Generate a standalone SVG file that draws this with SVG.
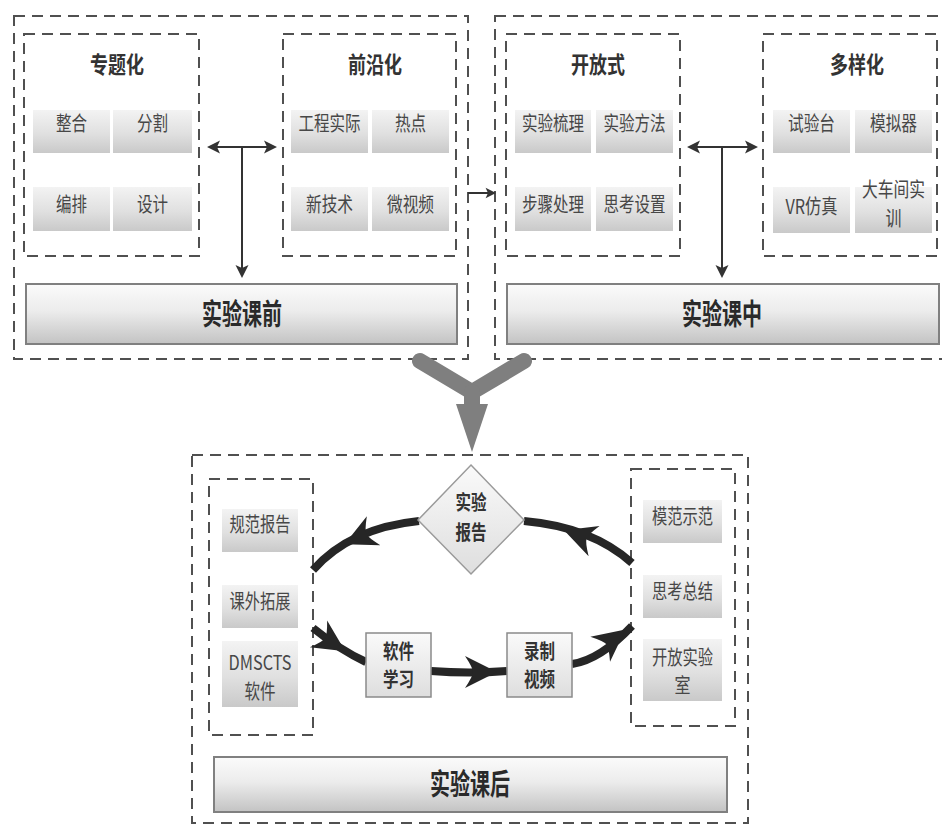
<svg xmlns="http://www.w3.org/2000/svg" width="942" height="827" viewBox="0 0 942 827">
  <defs>
    <linearGradient id="cellGrad" x1="0" y1="0" x2="0" y2="1">
      <stop offset="0" stop-color="#f3f3f3"/>
      <stop offset="0.55" stop-color="#e0e0e0"/>
      <stop offset="1" stop-color="#c9c9c9"/>
    </linearGradient>
    <linearGradient id="barGrad" x1="0" y1="0" x2="0" y2="1">
      <stop offset="0" stop-color="#fbfbfb"/>
      <stop offset="0.45" stop-color="#ececec"/>
      <stop offset="1" stop-color="#c3c3c3"/>
    </linearGradient>
    <linearGradient id="boxGrad" x1="0" y1="0" x2="0" y2="1">
      <stop offset="0" stop-color="#fafafa"/>
      <stop offset="1" stop-color="#dedede"/>
    </linearGradient>
    <!-- swept arrowhead for the thick cycle arcs, pointing along +x -->
    <path id="barb" d="M17,0 L-15,-16 Q-7,-4 -7,0 Q-7,4 -15,16 Z"/>
    <!-- small arrowhead for thin connectors, pointing along +x -->
    <path id="tip" d="M0,0 L-13,-6.5 L-10,0 L-13,6.5 Z"/>
  </defs>
  <style>
    .dash { fill: none; stroke: #505050; stroke-width: 2; stroke-dasharray: 11 7; }
    .cell { fill: url(#cellGrad); }
    .txt { font-family: "Noto Sans CJK SC", "Noto Sans", sans-serif; text-anchor: middle; }
    .ct { font-size: 20px; fill: #474747; }
    .tt { font-size: 23px; font-weight: bold; fill: #333; }
    .bar { fill: url(#barGrad); stroke: #808080; stroke-width: 2; }
    .bt { font-size: 29px; font-weight: bold; fill: #2a2a2a; }
    .nt { font-size: 20px; font-weight: bold; fill: #333; }
    .thin { fill: none; stroke: #333; stroke-width: 2; }
    .thick { fill: none; stroke: #262626; stroke-width: 8; }
    .head { fill: #333; }
    .bhead { fill: #262626; }
    .merge { fill: none; stroke: #7f7f7f; stroke-width: 16; stroke-linecap: round; stroke-linejoin: round; }
  </style>

  <rect width="942" height="827" fill="#ffffff"/>

  <!-- stage 1: before class -->
  <g id="stage-before">
    <rect class="dash" x="14" y="16" width="454" height="343"/>
    <rect class="bar" x="26" y="284" width="431" height="60"/>
    <text class="txt bt" x="242" y="325" textLength="80" lengthAdjust="spacingAndGlyphs">实验课前</text>
  </g>
  <g id="topical">
    <rect class="dash" x="24" y="34" width="175" height="222"/>
    <text class="txt tt" x="117" y="73" textLength="54" lengthAdjust="spacingAndGlyphs">专题化</text>
    <rect class="cell" x="33" y="110" width="77" height="43"/>
    <rect class="cell" x="113" y="110" width="79" height="43"/>
    <rect class="cell" x="33" y="187" width="77" height="44"/>
    <rect class="cell" x="113" y="187" width="79" height="44"/>
    <text class="txt ct" x="71.5" y="131" textLength="31" lengthAdjust="spacingAndGlyphs">整合</text>
    <text class="txt ct" x="152.5" y="131" textLength="31" lengthAdjust="spacingAndGlyphs">分割</text>
    <text class="txt ct" x="71.5" y="212" textLength="31" lengthAdjust="spacingAndGlyphs">编排</text>
    <text class="txt ct" x="152.5" y="212" textLength="31" lengthAdjust="spacingAndGlyphs">设计</text>
  </g>
  <g id="frontier">
    <rect class="dash" x="283" y="34" width="173" height="222"/>
    <text class="txt tt" x="375" y="73" textLength="54" lengthAdjust="spacingAndGlyphs">前沿化</text>
    <rect class="cell" x="291" y="110" width="77" height="43"/>
    <rect class="cell" x="372" y="110" width="77" height="43"/>
    <rect class="cell" x="291" y="187" width="77" height="44"/>
    <rect class="cell" x="372" y="187" width="77" height="44"/>
    <text class="txt ct" x="329.5" y="131" textLength="62" lengthAdjust="spacingAndGlyphs">工程实际</text>
    <text class="txt ct" x="410.5" y="131" textLength="31" lengthAdjust="spacingAndGlyphs">热点</text>
    <text class="txt ct" x="329.5" y="212" textLength="47" lengthAdjust="spacingAndGlyphs">新技术</text>
    <text class="txt ct" x="410.5" y="212" textLength="47" lengthAdjust="spacingAndGlyphs">微视频</text>
  </g>

  <!-- stage 2: in class -->
  <g id="stage-during">
    <rect class="dash" x="495" y="16" width="452" height="343"/>
    <rect class="bar" x="507" y="284" width="432" height="60"/>
    <text class="txt bt" x="722" y="325" textLength="80" lengthAdjust="spacingAndGlyphs">实验课中</text>
  </g>
  <g id="open">
    <rect class="dash" x="506" y="34" width="174" height="222"/>
    <text class="txt tt" x="598" y="73" textLength="54" lengthAdjust="spacingAndGlyphs">开放式</text>
    <rect class="cell" x="515" y="110" width="76" height="43"/>
    <rect class="cell" x="596" y="110" width="77" height="43"/>
    <rect class="cell" x="515" y="187" width="76" height="44"/>
    <rect class="cell" x="596" y="187" width="77" height="44"/>
    <text class="txt ct" x="553" y="131" textLength="62" lengthAdjust="spacingAndGlyphs">实验梳理</text>
    <text class="txt ct" x="634.5" y="131" textLength="62" lengthAdjust="spacingAndGlyphs">实验方法</text>
    <text class="txt ct" x="553" y="212" textLength="62" lengthAdjust="spacingAndGlyphs">步骤处理</text>
    <text class="txt ct" x="634.5" y="212" textLength="62" lengthAdjust="spacingAndGlyphs">思考设置</text>
  </g>
  <g id="diverse">
    <rect class="dash" x="763" y="34" width="174" height="222"/>
    <text class="txt tt" x="857" y="73" textLength="54" lengthAdjust="spacingAndGlyphs">多样化</text>
    <rect class="cell" x="773" y="110" width="77" height="43"/>
    <rect class="cell" x="855" y="110" width="77" height="43"/>
    <rect class="cell" x="773" y="187" width="77" height="46"/>
    <rect class="cell" x="855" y="187" width="77" height="46"/>
    <text class="txt ct" x="811.5" y="131" textLength="47" lengthAdjust="spacingAndGlyphs">试验台</text>
    <text class="txt ct" x="893.5" y="131" textLength="47" lengthAdjust="spacingAndGlyphs">模拟器</text>
    <text class="txt ct" x="811.5" y="214" textLength="52" lengthAdjust="spacingAndGlyphs">VR仿真</text>
    <text class="txt ct" x="893.5" y="197" textLength="63" lengthAdjust="spacingAndGlyphs">大车间实</text>
    <text class="txt ct" x="893.5" y="226" textLength="16" lengthAdjust="spacingAndGlyphs">训</text>
  </g>

  <!-- stage 3: after class -->
  <g id="stage-after">
    <rect class="dash" x="192" y="455" width="556" height="368"/>
    <rect class="bar" x="214" y="757" width="513" height="55"/>
    <text class="txt bt" x="470" y="795" textLength="80" lengthAdjust="spacingAndGlyphs">实验课后</text>
  </g>
  <g id="after-left">
    <rect class="dash" x="209" y="479" width="104" height="256"/>
    <rect class="cell" x="222" y="509" width="76" height="43"/>
    <rect class="cell" x="222" y="585" width="76" height="43"/>
    <rect class="cell" x="222" y="641" width="76" height="66"/>
    <text class="txt ct" x="260" y="532" textLength="61" lengthAdjust="spacingAndGlyphs">规范报告</text>
    <text class="txt ct" x="260" y="609" textLength="61" lengthAdjust="spacingAndGlyphs">课外拓展</text>
    <text class="txt ct" x="260" y="670" textLength="63" lengthAdjust="spacingAndGlyphs">DMSCTS</text>
    <text class="txt ct" x="260" y="699" textLength="31" lengthAdjust="spacingAndGlyphs">软件</text>
  </g>
  <g id="after-right">
    <rect class="dash" x="631" y="469" width="104" height="257"/>
    <rect class="cell" x="643" y="500" width="79" height="43"/>
    <rect class="cell" x="643" y="575" width="79" height="43"/>
    <rect class="cell" x="643" y="639" width="79" height="62"/>
    <text class="txt ct" x="682.5" y="524" textLength="61" lengthAdjust="spacingAndGlyphs">模范示范</text>
    <text class="txt ct" x="682.5" y="599" textLength="61" lengthAdjust="spacingAndGlyphs">思考总结</text>
    <text class="txt ct" x="682.5" y="665" textLength="61" lengthAdjust="spacingAndGlyphs">开放实验</text>
    <text class="txt ct" x="682.5" y="693" textLength="16" lengthAdjust="spacingAndGlyphs">室</text>
  </g>

  <!-- connectors -->
  <g id="connectors">
    <!-- before class: link between topics and down to the stage bar -->
    <line class="thin" x1="212" y1="147" x2="271" y2="147"/>
    <line class="thin" x1="242" y1="147" x2="242" y2="272"/>
    <use href="#tip" class="head" transform="translate(207,147) rotate(180)"/>
    <use href="#tip" class="head" transform="translate(277,147)"/>
    <use href="#tip" class="head" transform="translate(242,278) rotate(90)"/>

    <!-- in class: same layout -->
    <line class="thin" x1="692" y1="147" x2="752" y2="147"/>
    <line class="thin" x1="722" y1="147" x2="722" y2="272"/>
    <use href="#tip" class="head" transform="translate(687,147) rotate(180)"/>
    <use href="#tip" class="head" transform="translate(758,147)"/>
    <use href="#tip" class="head" transform="translate(722,278) rotate(90)"/>

    <!-- before to in class -->
    <line class="thin" x1="468" y1="193" x2="488" y2="193"/>
    <use href="#tip" class="head" transform="translate(496,193) scale(0.8)"/>

    <!-- both stages merge into after class -->
    <path class="merge" d="M420,361 L472,392 L524,361"/>
    <line class="merge" x1="472" y1="392" x2="472" y2="408" stroke-linecap="butt"/>
    <path fill="#7f7f7f" d="M456,404 L488,404 L472,452 Z"/>

    <!-- after class cycle -->
    <path class="thick" d="M419,521 Q350,528 313,570"/>
    <path class="thick" d="M632,563 Q592,527 524,521"/>
    <path class="thick" d="M313,628 Q340,650 366,662"/>
    <path class="thick" d="M431,671 Q470,674 507,671"/>
    <path class="thick" d="M572,664 Q600,660 632,626"/>
    <use href="#barb" class="bhead" transform="translate(360,537) rotate(155)"/>
    <use href="#barb" class="bhead" transform="translate(580,536) rotate(200)"/>
    <use href="#barb" class="bhead" transform="translate(331,642) rotate(33)"/>
    <use href="#barb" class="bhead" transform="translate(480,672) rotate(0)"/>
    <use href="#barb" class="bhead" transform="translate(612,640) rotate(-38)"/>
  </g>

  <!-- cycle nodes drawn over the arcs -->
  <g id="report">
    <path d="M471,465 L524,520 L471,574 L418,520 Z" fill="url(#boxGrad)" stroke="#9a9a9a" stroke-width="1.5"/>
    <text class="txt nt" x="471" y="510" textLength="31" lengthAdjust="spacingAndGlyphs">实验</text>
    <text class="txt nt" x="471" y="540" textLength="31" lengthAdjust="spacingAndGlyphs">报告</text>
  </g>
  <g id="software">
    <rect x="366" y="633" width="65" height="64" fill="url(#boxGrad)" stroke="#8a8a8a" stroke-width="1.5"/>
    <text class="txt nt" x="398.5" y="659" textLength="31" lengthAdjust="spacingAndGlyphs">软件</text>
    <text class="txt nt" x="398.5" y="687" textLength="31" lengthAdjust="spacingAndGlyphs">学习</text>
  </g>
  <g id="video">
    <rect x="507" y="633" width="65" height="64" fill="url(#boxGrad)" stroke="#8a8a8a" stroke-width="1.5"/>
    <text class="txt nt" x="539.5" y="659" textLength="31" lengthAdjust="spacingAndGlyphs">录制</text>
    <text class="txt nt" x="539.5" y="687" textLength="31" lengthAdjust="spacingAndGlyphs">视频</text>
  </g>
</svg>
